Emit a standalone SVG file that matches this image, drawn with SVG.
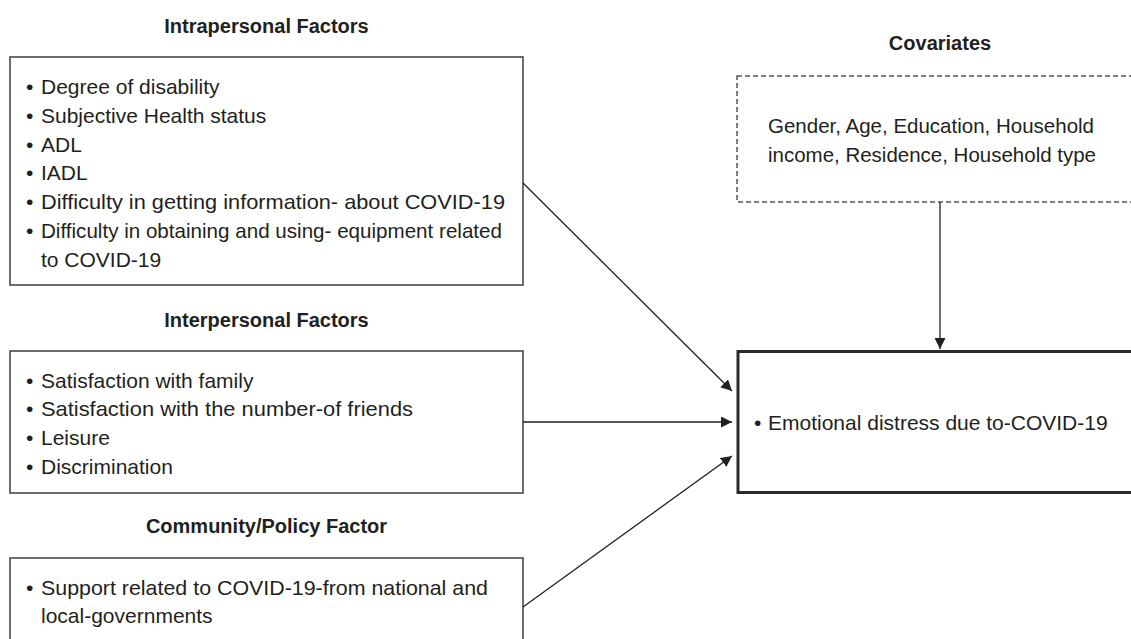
<svg xmlns="http://www.w3.org/2000/svg" width="1131" height="639" viewBox="0 0 1131 639">
  <style>
    .title { font-family: "Liberation Sans", Arial, sans-serif; font-size: 20px; font-weight: bold; fill: #231f20; text-anchor: middle; }
    .body { font-family: "Liberation Sans", Arial, sans-serif; font-size: 21px; fill: #231f20; }
    .box { fill: #ffffff; stroke: #4a4a4a; stroke-width: 1.6; }
    .dashbox { fill: #ffffff; stroke: #555555; stroke-width: 1.5; stroke-dasharray: 5 3; }
    .outbox { fill: #ffffff; stroke: #2a2a2a; stroke-width: 3; }
    .conn { stroke: #231f20; stroke-width: 1.3; fill: none; marker-end: url(#arrow); }
  </style>
  <defs>
    <marker id="arrow" markerUnits="userSpaceOnUse" markerWidth="12" markerHeight="12" refX="11" refY="5.5" orient="auto">
      <path d="M0,0 L11,5.5 L0,11 Z" fill="#231f20"/>
    </marker>
  </defs>
  <rect width="1131" height="639" fill="#ffffff"/>

  <g id="intrapersonal">
    <text class="title" x="266.5" y="33">Intrapersonal Factors</text>
    <rect class="box" x="10" y="57" width="513" height="228"/>
    <text class="body" y="94"><tspan x="26">•</tspan><tspan x="41">Degree of disability</tspan></text>
    <text class="body" y="123"><tspan x="26">•</tspan><tspan x="41">Subjective Health status</tspan></text>
    <text class="body" y="152"><tspan x="26">•</tspan><tspan x="41">ADL</tspan></text>
    <text class="body" y="180"><tspan x="26">•</tspan><tspan x="41">IADL</tspan></text>
    <text class="body" y="209"><tspan x="26">•</tspan><tspan x="41" textLength="464" lengthAdjust="spacingAndGlyphs">Difficulty in getting information- about COVID-19</tspan></text>
    <text class="body" y="238"><tspan x="26">•</tspan><tspan x="41" textLength="461" lengthAdjust="spacingAndGlyphs">Difficulty in obtaining and using- equipment related</tspan></text>
    <text class="body" x="41" y="267">to COVID-19</text>
  </g>

  <g id="interpersonal">
    <text class="title" x="266.5" y="327">Interpersonal Factors</text>
    <rect class="box" x="10" y="351" width="513" height="142"/>
    <text class="body" y="388"><tspan x="26">•</tspan><tspan x="41">Satisfaction with family</tspan></text>
    <text class="body" y="416"><tspan x="26">•</tspan><tspan x="41" textLength="372" lengthAdjust="spacingAndGlyphs">Satisfaction with the number-of friends</tspan></text>
    <text class="body" y="445"><tspan x="26">•</tspan><tspan x="41">Leisure</tspan></text>
    <text class="body" y="474"><tspan x="26">•</tspan><tspan x="41">Discrimination</tspan></text>
  </g>

  <g id="community">
    <text class="title" x="266.5" y="533">Community/Policy Factor</text>
    <rect class="box" x="10" y="558" width="513" height="100"/>
    <text class="body" y="595"><tspan x="26">•</tspan><tspan x="41" textLength="447" lengthAdjust="spacingAndGlyphs">Support related to COVID-19-from national and</tspan></text>
    <text class="body" x="41" y="623">local-governments</text>
  </g>

  <g id="covariates">
    <text class="title" x="940" y="50">Covariates</text>
    <rect class="dashbox" x="737" y="76" width="420" height="126"/>
    <text class="body" x="768" y="133" textLength="326" lengthAdjust="spacingAndGlyphs">Gender, Age, Education, Household</text>
    <text class="body" x="768" y="162" textLength="328" lengthAdjust="spacingAndGlyphs">income, Residence, Household type</text>
  </g>

  <g id="outcome">
    <rect class="outbox" x="738" y="351.5" width="420" height="141"/>
    <text class="body" y="430"><tspan x="754">•</tspan><tspan x="768">Emotional distress due to-COVID-19</tspan></text>
  </g>

  <g id="connectors">
    <line class="conn" x1="523" y1="183" x2="732" y2="391"/>
    <line class="conn" x1="523" y1="422" x2="732" y2="422"/>
    <line class="conn" x1="523" y1="607" x2="732" y2="456"/>
    <line class="conn" x1="940" y1="202" x2="940" y2="349"/>
  </g>
</svg>
